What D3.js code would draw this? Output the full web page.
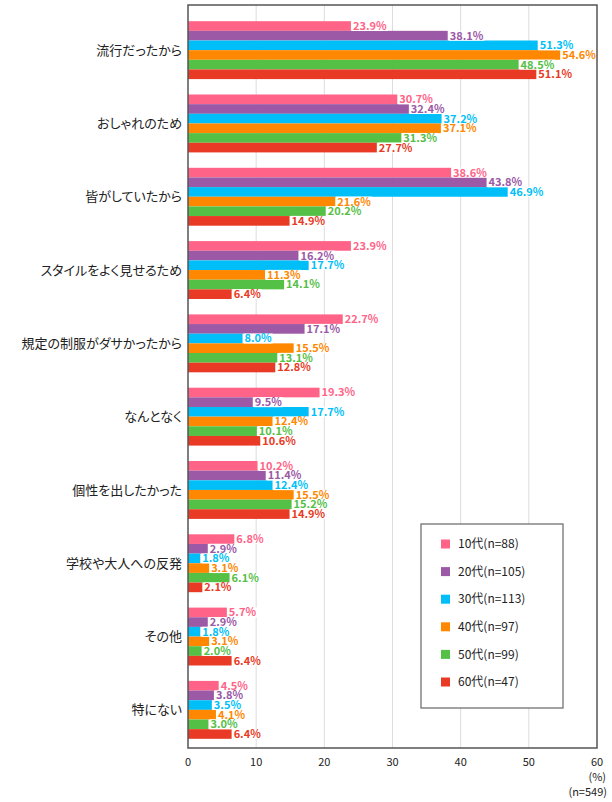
<!DOCTYPE html>
<html>
<head>
<meta charset="utf-8">
<script src="https://cdn.jsdelivr.net/npm/d3@7"></script>
<style>
  body { margin: 0; background: #fff; }
  text { font-family: "Noto Sans CJK JP", "Noto Sans", sans-serif; }
  .cat { font-feature-settings: "palt"; }
</style>
</head>
<body>
<div id="chart"></div>
<script>
(function(){
// categories and series
const categories = ["流行だったから", "おしゃれのため", "皆がしていたから", "スタイルをよく見せるため",
  "規定の制服がダサかったから", "なんとなく", "個性を出したかった", "学校や大人への反発", "その他", "特にない"];
const seriesNames = ["10代(n=88)", "20代(n=105)", "30代(n=113)", "40代(n=97)", "50代(n=99)", "60代(n=47)"];
const colors = ["#ff6488", "#9b59a6", "#00bff8", "#ff8800", "#55c046", "#e83a25"];

const v10 = [23.9, 30.7, 38.6, 23.9, 22.7, 19.3, 10.2, 6.8, 5.7, 4.5];
const v20 = [38.1, 32.4, 43.8, 16.2, 17.1, 9.5, 11.4, 2.9, 2.9, 3.8];
const v30 = [51.3, 37.2, 46.9, 17.7, 8.0, 17.7, 12.4, 1.8, 1.8, 3.5];
const v40 = [54.6, 37.1, 21.6, 11.3, 15.5, 12.4, 15.5, 3.1, 3.1, 4.1];
const v50 = [48.5, 31.3, 20.2, 14.1, 13.1, 10.1, 15.2, 6.1, 2.0, 3.0];
const v60 = [51.1, 27.7, 14.9, 6.4, 12.8, 10.6, 14.9, 2.1, 6.4, 6.4];
const seriesValues = [v10, v20, v30, v40, v50, v60];

const xTicks = [0, 10, 20, 30, 40, 50, 60];

const width = 612, height = 802;
const left = 188, right = 597, top = 5, bottom = 748;

const svg = d3.select("#chart").append("svg")
  .attr("width", width).attr("height", height);

const x = d3.scaleLinear().domain([0, 60]).range([left, right]);
const y = d3.scaleBand().domain(categories).range([13.5, 746.5])
  .paddingInner(0.21).paddingOuter(0.105);
const ySub = d3.scaleBand().domain(d3.range(seriesNames.length)).range([0, y.bandwidth()]);

// gridlines
svg.append("g").selectAll("line")
  .data(xTicks.slice(1, -1))
  .join("line")
  .attr("x1", d => x(d)).attr("x2", d => x(d))
  .attr("y1", top).attr("y2", bottom)
  .attr("stroke", "#dcdcdc").attr("stroke-width", 1);

// bars
const groups = svg.append("g").selectAll("g")
  .data(categories)
  .join("g")
  .attr("transform", d => `translate(0,${y(d)})`);

groups.each(function(cat, ci) {
  const g = d3.select(this);
  const rows = seriesValues.map((vals, si) => ({ si, v: vals[ci] }));
  g.selectAll("rect.bar").data(rows).join("rect")
    .attr("class", "bar")
    .attr("x", x(0))
    .attr("y", d => ySub(d.si))
    .attr("width", d => x(d.v) - x(0))
    .attr("height", ySub.bandwidth())
    .attr("fill", d => colors[d.si]);
});

// value labels (white box behind, like the original)
groups.each(function(cat, ci) {
  const g = d3.select(this);
  const rows = seriesValues.map((vals, si) => ({ si, v: vals[ci] }));
  const lab = g.selectAll("g.lab").data(rows).join("g").attr("class", "lab")
    .attr("transform", d => `translate(${x(d.v) + 1},${ySub(d.si) + ySub.bandwidth() / 2})`);
  lab.append("text")
    .attr("x", 1)
    .attr("dy", "0.36em")
    .attr("font-size", 11)
    .attr("font-weight", "bold")
    .attr("fill", d => colors[d.si])
    .text(d => d.v.toFixed(1) + "%");
  lab.insert("rect", "text")
    .attr("x", 0).attr("y", -5)
    .attr("width", function() { return this.parentNode.querySelector("text").getComputedTextLength() + 2; })
    .attr("height", 10)
    .attr("fill", "#fff");
});

// category labels
svg.append("g").selectAll("text")
  .data(categories)
  .join("text")
  .attr("class", "cat")
  .attr("x", left - 6)
  .attr("y", d => y(d) + y.bandwidth() / 2)
  .attr("dy", "0.35em")
  .attr("text-anchor", "end")
  .attr("font-size", 13)
  .attr("fill", "#222")
  .text(d => d);

// frame
svg.append("rect")
  .attr("x", left).attr("y", top)
  .attr("width", right - left).attr("height", bottom - top)
  .attr("fill", "none").attr("stroke", "#555").attr("stroke-width", 1.5);

// x axis tick labels
svg.append("g").selectAll("text")
  .data(xTicks)
  .join("text")
  .attr("x", d => x(d))
  .attr("y", 766)
  .attr("text-anchor", "middle")
  .attr("font-size", 11)
  .attr("fill", "#222")
  .text(d => d);

svg.append("text").attr("x", 606).attr("y", 781).attr("text-anchor", "end")
  .attr("font-size", 11).attr("fill", "#222").text("(%)");
svg.append("text").attr("x", 607).attr("y", 796).attr("text-anchor", "end")
  .attr("font-size", 11).attr("fill", "#222").text("(n=549)");

// legend
const legend = svg.append("g");
legend.append("rect")
  .attr("x", 421).attr("y", 524).attr("width", 142).attr("height", 184)
  .attr("fill", "#fff").attr("stroke", "#666").attr("stroke-width", 1.2);
const li = legend.selectAll("g.item").data(seriesNames).join("g").attr("class", "item")
  .attr("transform", (d, i) => `translate(441,${544 + i * 27.6})`);
li.append("rect").attr("x", 0).attr("y", -4.5).attr("width", 9).attr("height", 9)
  .attr("fill", (d, i) => colors[i]);
li.append("text").attr("x", 17).attr("dy", "0.35em")
  .attr("font-size", 12).attr("fill", "#222").text(d => d);
})();
</script>
</body>
</html>
